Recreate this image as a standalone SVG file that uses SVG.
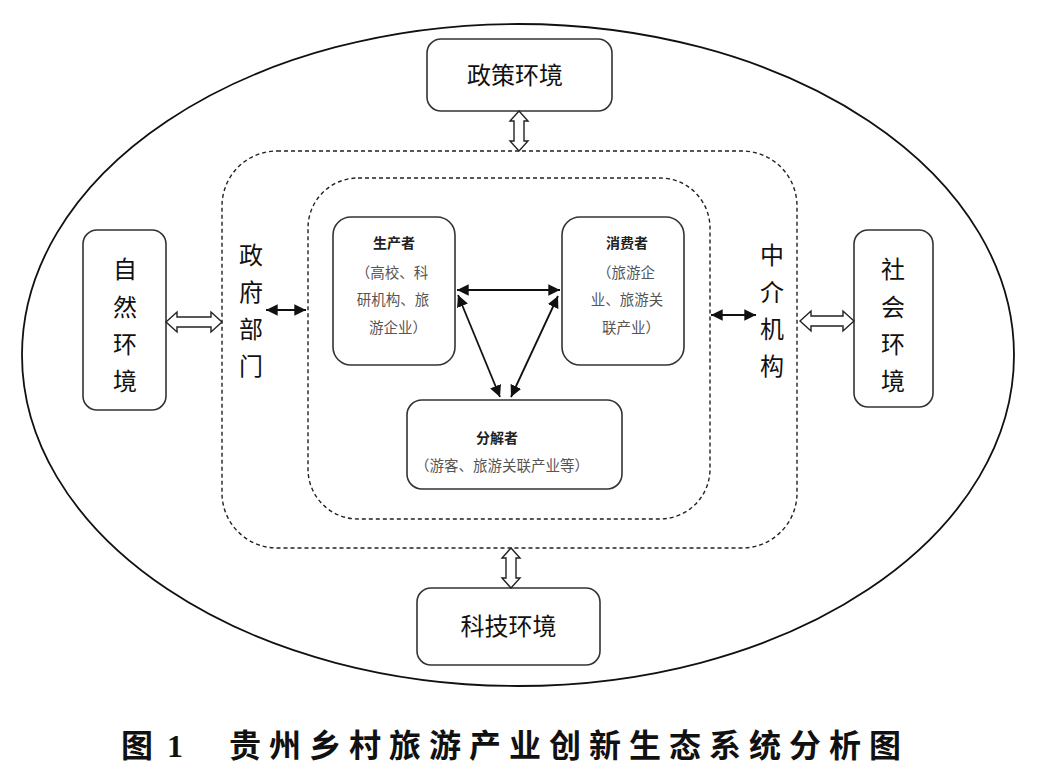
<svg xmlns="http://www.w3.org/2000/svg" width="1038" height="781" viewBox="0 0 1038 781">
<defs>
<style>
.box{fill:#fff;stroke:#333;stroke-width:1.6}
.dash{fill:none;stroke:#222;stroke-width:1.4;stroke-dasharray:4 3}
.lbl{font-family:"Noto Sans CJK SC","Noto Sans",sans-serif;font-size:24px;fill:#111;text-anchor:middle}
.ttl{font-family:"Noto Sans CJK SC",sans-serif;font-size:14px;font-weight:bold;fill:#222;text-anchor:middle}
.sub{font-family:"Noto Sans CJK SC",sans-serif;font-size:14.5px;fill:#555;text-anchor:middle}
.hol{fill:#fff;stroke:#222;stroke-width:1.4;stroke-linejoin:miter}
.arr{stroke:#111;stroke-width:1.8;fill:none;marker-start:url(#ah);marker-end:url(#ah)}
.cap{font-family:"Noto Sans CJK SC",sans-serif;font-size:32px;font-weight:bold;fill:#111;letter-spacing:8px}
</style>
<marker id="ah" viewBox="0 0 10 10" refX="10" refY="5" markerWidth="6.5" markerHeight="6.5" markerUnits="strokeWidth" orient="auto-start-reverse">
<path d="M0,0 L10,5 L0,10 Z" fill="#111"/>
</marker>
</defs>
<rect width="1038" height="781" fill="#fff"/>
<g id="outer-ellipse"><ellipse cx="518" cy="355" rx="496" ry="331" fill="none" stroke="#111" stroke-width="1.8"/></g>
<g id="outer-dashed"><rect class="dash" x="222" y="151" width="575" height="397" rx="55" ry="55"/></g>
<g id="inner-dashed"><rect class="dash" x="308" y="178" width="402" height="341" rx="50" ry="50"/></g>

<g id="policy"><rect class="box" x="427" y="39" width="185" height="72" rx="14"/><text class="lbl" x="515" y="84">政策环境</text></g>
<g id="tech"><rect class="box" x="417" y="588" width="183" height="77" rx="14"/><text class="lbl" x="508.5" y="635">科技环境</text></g>
<g id="nature"><rect class="box" x="83" y="230" width="83" height="180" rx="14"/>
<text class="lbl" x="125" y="278">自</text><text class="lbl" x="125" y="316">然</text><text class="lbl" x="125" y="353">环</text><text class="lbl" x="125" y="390">境</text></g>
<g id="society"><rect class="box" x="854" y="230" width="79" height="177" rx="14"/>
<text class="lbl" x="893" y="278">社</text><text class="lbl" x="893" y="316">会</text><text class="lbl" x="893" y="353">环</text><text class="lbl" x="893" y="390">境</text></g>
<g id="government">
<text class="lbl" x="251" y="264">政</text><text class="lbl" x="251" y="301">府</text><text class="lbl" x="251" y="338">部</text><text class="lbl" x="251" y="375">门</text></g>
<g id="intermediary">
<text class="lbl" x="772" y="264">中</text><text class="lbl" x="772" y="301">介</text><text class="lbl" x="772" y="338">机</text><text class="lbl" x="772" y="375">构</text></g>

<g id="producer"><rect class="box" x="333" y="217" width="122" height="148" rx="18"/>
<text class="ttl" x="394" y="248">生产者</text>
<text class="sub" x="392" y="278">（高校、科</text>
<text class="sub" x="393" y="305">研机构、旅</text>
<text class="sub" x="398" y="333">游企业）</text></g>
<g id="consumer"><rect class="box" x="562" y="217" width="122" height="148" rx="18"/>
<text class="ttl" x="627" y="248">消费者</text>
<text class="sub" x="626" y="278">（旅游企</text>
<text class="sub" x="627" y="305">业、旅游关</text>
<text class="sub" x="631" y="333">联产业）</text></g>
<g id="decomposer"><rect class="box" x="407" y="400" width="215" height="89" rx="15"/>
<text class="ttl" x="497" y="443">分解者</text>
<text class="sub" x="502" y="471">（游客、旅游关联产业等）</text></g>

<g id="connectors">
<line class="arr" x1="457" y1="290" x2="560" y2="290"/>
<line class="arr" x1="458" y1="295" x2="500" y2="397"/>
<line class="arr" x1="558" y1="296" x2="511" y2="397"/>
<line class="arr" x1="266" y1="310" x2="306" y2="310"/>
<line class="arr" x1="711" y1="315" x2="756" y2="315"/>
<path class="hol" d="M166,322 L177,312 L177,317 L211,317 L211,312 L222,322 L211,332 L211,327 L177,327 L177,332 Z"/>
<path class="hol" d="M800,321 L811,311 L811,316 L843,316 L843,311 L854,321 L843,331 L843,326 L811,326 L811,331 Z"/>
<path class="hol" d="M519,111 L528,121 L524,121 L524,141 L528,141 L519,151 L510,141 L514,141 L514,121 L510,121 Z"/>
<path class="hol" d="M511,548 L520,558 L516,558 L516,578 L520,578 L511,588 L502,578 L506,578 L506,558 L502,558 Z"/>
</g>

<g id="caption"><text class="cap" x="121" y="757">图<tspan font-family="Liberation Serif" dx="6">1</tspan><tspan dx="38">贵州乡村旅游产业创新生态系统分析图</tspan></text></g>
</svg>
